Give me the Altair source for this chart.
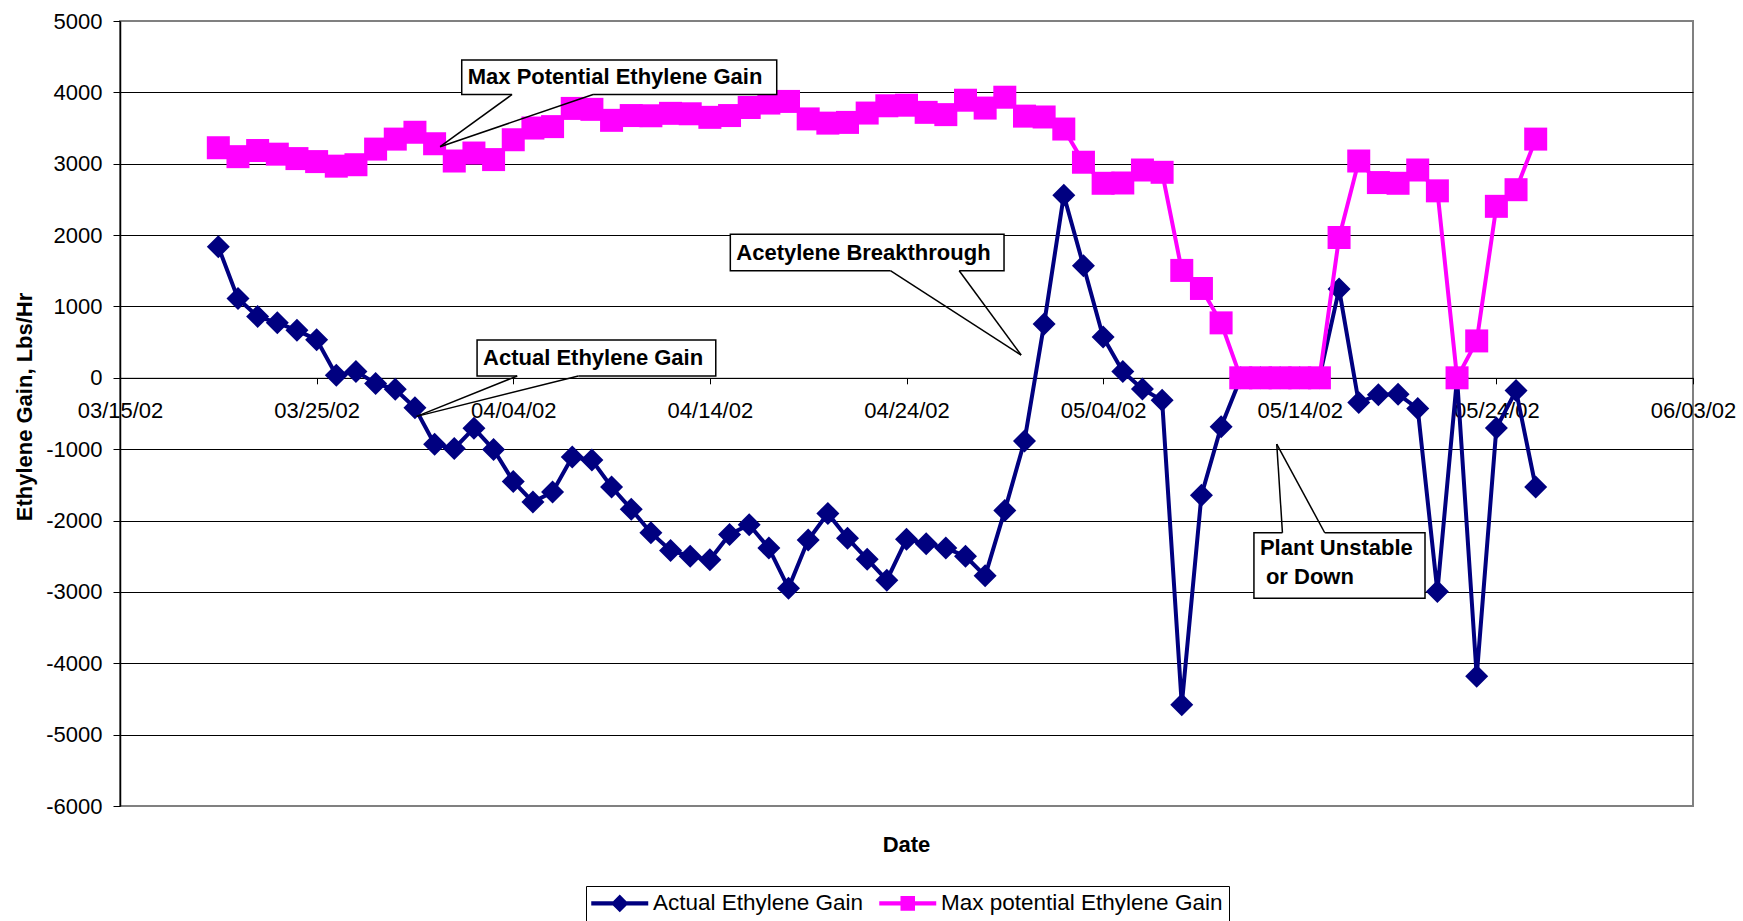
import altair as alt
import pandas as pd

NAVY = "#000080"
MAGENTA = "#FF00FF"
FONT = "Liberation Sans"

ACTUAL = "Actual Ethylene Gain"
MAX_POT = "Max potential Ethylene Gain"

# One reading per day, 03/20/02 through 05/26/02
reading_days = pd.date_range("2002-03-20", "2002-05-26", freq="D", tz="UTC")

actual_gain = [
    1837, 1110, 860, 770, 665, 535, 35, 90, -80, -160, -420,
    -930, -990, -705, -1005, -1452, -1740, -1600, -1110, -1153, -1530,
    -1840, -2170, -2420, -2500, -2550,
    -2195, -2060, -2386, -2947, -2273, -1900, -2247, -2542, -2835, -2261,
    -2325, -2386, -2500, -2775, -1858, -887,
    755, 2558, 1570, 572, 89, -158, -316, -4582, -1646, -685,
    0, 0, 0, 0, 0,
    1243, -346, -237, -230, -431, -2994, 0, -4182, -704, -179, -1530,
]

max_potential_gain = [
    3224, 3099, 3185, 3134, 3072, 3030, 2966, 2986, 3205, 3345, 3441,
    3280, 3038, 3150, 3058, 3336, 3500, 3520, 3775, 3762, 3608,
    3675, 3672, 3706, 3700, 3650,
    3675, 3788, 3850, 3873, 3628, 3569, 3579, 3710, 3812, 3820,
    3720, 3688, 3890, 3780, 3932, 3667,
    3655, 3486, 3021, 2726, 2730, 2912, 2880, 1505, 1252, 770,
    0, 0, 0, 0, 0,
    1966, 3038, 2736, 2726, 2912, 2620, 0, 517, 2403, 2636, 3345,
]

x_start = pd.Timestamp("2002-03-15", tz="UTC")
x_end = pd.Timestamp("2002-06-03", tz="UTC")
tick_dates = pd.date_range(x_start, x_end, freq="10D")
y_ticks = list(range(-6000, 5001, 1000))
Y_MIN, Y_MAX = -6000, 5000

W, H = 1573, 785


def ms(ts):
    return int(ts.value // 1_000_000)


def day_ms(d):
    """Timestamp (ms) of a point d days after the start of the date axis."""
    return ms(x_start + pd.Timedelta(days=d))


actual_df = pd.DataFrame({"date": [ms(t) for t in reading_days], "value": actual_gain})
max_df = pd.DataFrame({"date": [ms(t) for t in reading_days], "value": max_potential_gain})

# Callouts: box corners, the edge the pointer leaves from, pointer base and tip,
# and text lines as (text, value, indent in px)
callouts = [
    dict(box=(17.38, 33.40, 4453, 3970), base=(19.94, 24.06, 3970), tip=(16.28, 3239),
         lines=[("Max Potential Ethylene Gain", 4211, 6)]),
    dict(box=(31.04, 44.96, 2011, 1501), base=(39.18, 42.68, 1501), tip=(45.83, 319),
         lines=[("Acetylene Breakthrough", 1756, 6)]),
    dict(box=(18.16, 30.30, 530, 25), base=(20.20, 23.31, 25), tip=(15.09, -540),
         lines=[("Actual Ethylene Gain", 277, 6)]),
    dict(box=(57.67, 66.37, -2171, -3090), base=(59.12, 61.27, -2171), tip=(58.83, -928),
         lines=[("Plant Unstable", -2390, 6), ("or Down", -2796, 12)]),
]

box_df = pd.DataFrame([
    {"x0": day_ms(c["box"][0]), "x1": day_ms(c["box"][1]), "y0": c["box"][2], "y1": c["box"][3]}
    for c in callouts
])
gap_df = pd.DataFrame([
    {"x0": day_ms(c["base"][0]), "x1": day_ms(c["base"][1]), "y0": c["base"][2]}
    for c in callouts
])
pointer_df = pd.DataFrame([
    {"x0": day_ms(bx), "y0": c["base"][2], "x1": day_ms(c["tip"][0]), "y1": c["tip"][1]}
    for c in callouts for bx in c["base"][:2]
])
label_df = pd.DataFrame([
    {"x0": day_ms(c["box"][0]), "y0": yv, "label": txt, "indent": ind}
    for c in callouts for txt, yv, ind in c["lines"]
])

# legend entries live outside the visible date range (clipped away)
legend_df = pd.DataFrame({"date": [day_ms(95), day_ms(95)], "value": [0, 0],
                          "series": [ACTUAL, MAX_POT]})

LEG_DIAMOND = ("M-2.59,-0.19L2.59,-0.19L2.59,0.19L-2.59,0.19Z"
               "M-0.8,0L0,-0.8L0.8,0L0,0.8Z")
LEG_SQUARE = ("M-2.59,-0.19L2.59,-0.19L2.59,0.19L-2.59,0.19Z"
              "M-0.66,-0.66L0.66,-0.66L0.66,0.66L-0.66,0.66Z")

x_scale = alt.Scale(type="utc", domain=[ms(x_start), ms(x_end)])
y_scale = alt.Scale(domain=[Y_MIN, Y_MAX], nice=False, zero=False)

# the date axis sits on the zero line
zero_offset = -H * (0 - Y_MIN) / (Y_MAX - Y_MIN)

x_axis = alt.Axis(
    values=[ms(t) for t in tick_dates],
    labelExpr="utcFormat(datum.value, '%m/%d/%y')",
    title=None,
    offset=zero_offset,
    grid=False,
    domainColor="black", domainWidth=1,
    tickColor="black", tickSize=6, tickWidth=1,
    labelFont=FONT, labelFontSize=22, labelColor="black", labelPadding=17,
    labelFlush=False, labelOverlap=False,
)

y_axis = alt.Axis(
    values=y_ticks,
    labelExpr="'' + datum.value",
    title="Ethylene Gain, Lbs/Hr",
    titleFont=FONT, titleFontSize=22, titleFontWeight="bold", titleColor="black",
    titleX=-96, titleY=385.5, titleAngle=270, titleAlign="center", titleBaseline="middle",
    labelFont=FONT, labelFontSize=22, labelColor="black", labelPadding=11,
    tickSize=7, tickColor="black", tickWidth=1,
    domainColor="black", domainWidth=1.5,
    grid=True, gridColor="black", gridWidth=1,
    gridOpacity=alt.condition("datum.value == 5000 || datum.value == -6000",
                              alt.value(0), alt.value(1)),
)


def X(field):
    return alt.X(field, type="temporal", scale=x_scale, axis=x_axis)


def Y(field):
    return alt.Y(field, type="quantitative", scale=y_scale, axis=y_axis)


actual_line = alt.Chart(actual_df).mark_line(
    color=NAVY, strokeWidth=4
).encode(x=X("date"), y=Y("value"))
actual_pts = alt.Chart(actual_df).mark_point(
    shape="diamond", filled=True, size=529, color=NAVY, opacity=1, strokeWidth=0
).encode(x=X("date"), y=Y("value"))

max_line = alt.Chart(max_df).mark_line(
    color=MAGENTA, strokeWidth=4
).encode(x=X("date"), y=Y("value"))
max_pts = alt.Chart(max_df).mark_point(
    shape="square", filled=True, size=529, color=MAGENTA, opacity=1, strokeWidth=0
).encode(x=X("date"), y=Y("value"))

legend = alt.Legend(
    title=None, orient="none", legendX=466, legendY=865, direction="horizontal",
    strokeColor="black", fillColor="white", padding=6,
    labelFont=FONT, labelFontSize=22.5, labelColor="black", labelLimit=400,
    symbolSize=484, symbolStrokeWidth=0, symbolOffset=16.5, labelOffset=22,
    columnPadding=15,
)
legend_layer = alt.Chart(legend_df).mark_point(
    filled=True, size=484, opacity=1, clip=True
).encode(
    x=X("date"), y=Y("value"),
    color=alt.Color("series:N", scale=alt.Scale(domain=[ACTUAL, MAX_POT], range=[NAVY, MAGENTA]),
                    legend=legend),
    shape=alt.Shape("series:N", scale=alt.Scale(domain=[ACTUAL, MAX_POT],
                                                range=[LEG_DIAMOND, LEG_SQUARE]),
                    legend=legend),
)

boxes = alt.Chart(box_df).mark_rect(
    fill="white", stroke="black", strokeWidth=1.5
).encode(x=X("x0"), x2="x1", y=Y("y0"), y2="y1")

gaps = alt.Chart(gap_df).mark_rule(color="white", strokeWidth=3).encode(
    x=X("x0"), x2="x1", y=Y("y0")
)

pointers = alt.Chart(pointer_df).mark_rule(color="black", strokeWidth=1.5).encode(
    x=X("x0"), x2="x1", y=Y("y0"), y2="y1"
)


def label_layer(indent):
    return alt.Chart(label_df[label_df["indent"] == indent]).mark_text(
        align="left", baseline="middle", dx=indent, font=FONT, fontSize=22,
        fontWeight="bold", color="black"
    ).encode(x=X("x0"), y=Y("y0"), text="label:N")


date_title = alt.Chart(pd.DataFrame({"t": ["Date"]})).mark_text(
    font=FONT, fontSize=22, fontWeight="bold", color="black",
    align="center", baseline="middle"
).encode(x=alt.value(W / 2), y=alt.value(824), text="t:N")

chart = alt.layer(
    actual_line, actual_pts, max_line, max_pts, legend_layer,
    boxes, gaps, pointers, label_layer(6), label_layer(12), date_title,
).properties(
    width=W, height=H,
    autosize=alt.AutoSizeParams(type="none"),
    padding={"left": 120, "top": 21, "right": 50, "bottom": 115},
    background="white",
).configure_view(stroke="#808080", strokeWidth=2)

chart.save("out.html", embed_options={"renderer": "svg", "actions": False})
